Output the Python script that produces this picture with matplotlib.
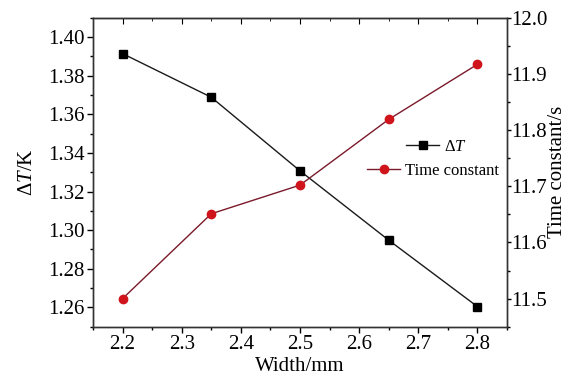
import matplotlib
matplotlib.use("Agg")
import matplotlib.pyplot as plt
from matplotlib.ticker import MultipleLocator

plt.rcParams['font.family'] = ['Liberation Serif', 'DejaVu Serif']
plt.rcParams['mathtext.fontset'] = 'custom'
plt.rcParams['mathtext.it'] = 'Liberation Serif:italic'
plt.rcParams['mathtext.rm'] = 'Liberation Serif'

width = [2.2, 2.35, 2.5, 2.65, 2.8]
delta_t = [1.3914, 1.3688, 1.3307, 1.2948, 1.2604]
time_const = [11.50, 11.651, 11.702, 11.819, 11.917]

W, H = 568, 376
fig = plt.figure(figsize=(W / 100, H / 100), dpi=100)
ax = fig.add_axes([93 / W, 1 - 326.7 / H, 414 / W, 309 / H])
ax2 = ax.twinx()

l1, = ax.plot(width, delta_t, color='#1a1a1a', lw=1, marker='s', ms=5.5,
              mfc='black', mec='black')
l2, = ax2.plot(width, time_const, color='#7a1a2a', lw=1, marker='o', ms=6,
               mfc='#d0141c', mec='#d0141c')

ax.set_xlim(2.15, 2.85)
ax.set_ylim(1.25, 1.41)
ax2.set_ylim(11.45, 12.0)

ax.xaxis.set_major_locator(MultipleLocator(0.1))
ax.xaxis.set_minor_locator(MultipleLocator(0.05))
ax.yaxis.set_major_locator(MultipleLocator(0.02))
ax.yaxis.set_minor_locator(MultipleLocator(0.01))
ax2.yaxis.set_major_locator(MultipleLocator(0.1))
ax2.yaxis.set_minor_locator(MultipleLocator(0.05))
ax.xaxis.set_major_formatter(plt.FormatStrFormatter('%.1f'))
ax.yaxis.set_major_formatter(plt.FormatStrFormatter('%.2f'))
ax2.yaxis.set_major_formatter(plt.FormatStrFormatter('%.1f'))

ax.tick_params(axis='x', which='both', direction='out', top=False, labelsize=15)
ax.tick_params(axis='y', which='both', direction='out', labelsize=15)
ax2.tick_params(axis='y', which='both', direction='out', labelsize=15)
for a in (ax, ax2):
    a.tick_params(which='major', length=4, width=1, pad=2)
    a.tick_params(which='minor', length=2.5, width=1)
ax2.tick_params(which='major', length=3, pad=0)

# inward ticks along the top edge
top = ax.secondary_xaxis('top')
top.xaxis.set_major_locator(MultipleLocator(0.1))
top.xaxis.set_minor_locator(MultipleLocator(0.05))
top.tick_params(which='both', direction='in', labeltop=False)
top.tick_params(which='major', length=4)
top.tick_params(which='minor', length=2.5)

for a in (ax, ax2):
    for s in a.spines.values():
        s.set_color('#333333')
        s.set_linewidth(1)

ax.set_xlabel('Width/mm', fontsize=15, labelpad=2)
ax.set_ylabel(r'$\Delta T$/K', fontsize=15)
ax2.set_ylabel('Time constant/s', fontsize=15)
ax.yaxis.set_label_coords(-0.135, 0.5)
ax2.yaxis.set_label_coords(1.1, 0.5)

# two legend entries, offset like in the original figure
leg1 = fig.legend([l1], [r'$\Delta T$'], frameon=False, fontsize=12,
                  loc='center left', bbox_to_anchor=(406 / W, 1 - 147 / H),
                  handlelength=2, handletextpad=0.3, borderpad=0, borderaxespad=0)
leg2 = fig.legend([l2], ['Time constant'], frameon=False, fontsize=12,
                  loc='center left', bbox_to_anchor=(367 / W, 1 - 171 / H),
                  handlelength=2, handletextpad=0.3, borderpad=0, borderaxespad=0)

fig.savefig('out.png', dpi=100)
